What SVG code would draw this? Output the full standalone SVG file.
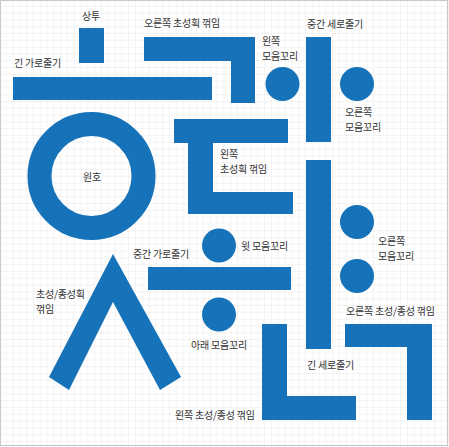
<svg xmlns="http://www.w3.org/2000/svg" width="449" height="447" viewBox="0 0 449 447">
  <style>
    .s { fill: #1672b9; }
    .ring { fill: none; stroke: #1672b9; stroke-width: 24; }
    text { font-family: "Noto Sans CJK KR", "Noto Sans", sans-serif; font-size: 10px; fill: #333; letter-spacing: -0.2px; }
  </style>
  <defs>
    <pattern id="grid" x="0" y="0" width="6.8" height="6.8" patternUnits="userSpaceOnUse">
      <path d="M6.8 0 V6.8 M0 6.8 H6.8" fill="none" stroke="#e4e4e4" stroke-width="0.8"/>
    </pattern>
  </defs>
  <rect x="0" y="0" width="449" height="447" fill="#fff"/>
  <rect x="0" y="0" width="449" height="447" fill="url(#grid)"/>
  <rect x="0.5" y="0.5" width="447" height="445" fill="none" stroke="#c8c8c8" stroke-width="1"/>

  <g id="sangtu">
    <rect class="s" x="79" y="28" width="25" height="35"/>
    <text x="91" y="20" text-anchor="middle">상투</text>
  </g>
  <g id="long-horizontal">
    <rect class="s" x="13" y="77" width="199" height="23"/>
    <text x="14" y="67">긴 가로줄기</text>
  </g>
  <g id="right-initial-bend">
    <path class="s" d="M144,37 H255 V103 H231 V61 H144 Z"/>
    <text x="144" y="27">오른쪽 초성획 꺾임</text>
  </g>
  <g id="left-initial-bend">
    <path class="s" d="M174,119 H288 V143 H213 V192 H293 V214 H188 V143 H174 Z"/>
    <text x="220" y="158">왼쪽</text>
    <text x="220" y="172.5">초성획 꺾임</text>
  </g>
  <g id="circle-ring">
    <circle class="ring" cx="91.5" cy="176" r="52"/>
    <text x="92" y="181" text-anchor="middle">원호</text>
  </g>
  <g id="left-vowel-tail">
    <circle class="s" cx="282.5" cy="84" r="17"/>
    <text x="262" y="45">왼쪽</text>
    <text x="262" y="59.5">모음꼬리</text>
  </g>
  <g id="middle-vertical">
    <rect class="s" x="306" y="37" width="25" height="105"/>
    <text x="307" y="28">중간 세로줄기</text>
  </g>
  <g id="right-vowel-tail-top">
    <circle class="s" cx="357" cy="84" r="17"/>
    <text x="345" y="116">오른쪽</text>
    <text x="345" y="130.5">모음꼬리</text>
  </g>
  <g id="long-vertical">
    <rect class="s" x="306" y="160" width="25" height="189"/>
    <text x="307" y="369">긴 세로줄기</text>
  </g>
  <g id="right-vowel-tail-bottom">
    <circle class="s" cx="357" cy="222" r="17"/>
    <circle class="s" cx="357" cy="276" r="17"/>
    <text x="378" y="245">오른쪽</text>
    <text x="378" y="259.5">모음꼬리</text>
  </g>
  <g id="upper-vowel-tail">
    <circle class="s" cx="219" cy="245.5" r="17"/>
    <text x="241" y="250">윗 모음꼬리</text>
  </g>
  <g id="middle-horizontal">
    <rect class="s" x="148" y="267" width="143" height="23"/>
    <text x="133" y="258">중간 가로줄기</text>
  </g>
  <g id="lower-vowel-tail">
    <circle class="s" cx="219" cy="314.5" r="17"/>
    <text x="191" y="349">아래 모음꼬리</text>
  </g>
  <g id="siot-bend">
    <polygon class="s" points="113,254 181,377 160,390 113,302 69,390 49,377"/>
    <text x="36" y="298">초성/종성획</text>
    <text x="36" y="312.5">꺾임</text>
  </g>
  <g id="right-final-bend">
    <path class="s" d="M345,324 H432 V420 H407 V347 H345 Z"/>
    <text x="346" y="315">오른쪽 초성/종성 꺾임</text>
  </g>
  <g id="left-final-bend">
    <path class="s" d="M262,324 H287 V396 H356 V420 H262 Z"/>
    <text x="175" y="419">왼쪽 초성/종성 꺾임</text>
  </g>
  <g id="connectors"/>
</svg>
